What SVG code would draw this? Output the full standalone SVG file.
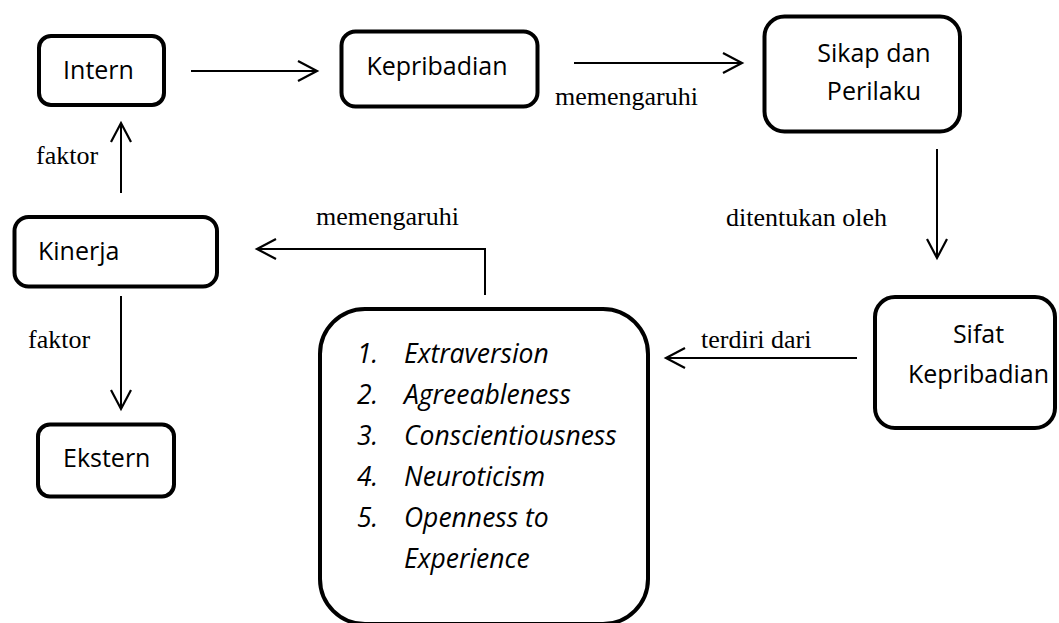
<svg xmlns="http://www.w3.org/2000/svg" width="1059" height="623" viewBox="0 0 1059 623">
  <style>
    .box { fill: #ffffff; stroke: #000000; stroke-width: 4; }
    .ntxt { font-family: "Open Sans", "Noto Sans", sans-serif; font-size: 25px; fill: #000000; }
    .ltxt { font-family: "Open Sans", "Noto Sans", sans-serif; font-size: 26.5px; font-style: italic; fill: #000000; }
    .lbl { font-family: "Liberation Serif", "Times New Roman", serif; font-size: 26px; fill: #000000; }
    .conn { fill: none; stroke: #000000; stroke-width: 2; marker-end: url(#arrow); }
  </style>
  <defs>
    <marker id="arrow" markerUnits="userSpaceOnUse" markerWidth="24" markerHeight="24" viewBox="-22 -12 24 24" refX="0" refY="0" orient="auto" overflow="visible">
      <path d="M-19,-10 L0,0 L-19,10" fill="none" stroke="#000000" stroke-width="2.2"/>
    </marker>
  </defs>
  <rect width="1059" height="623" fill="#ffffff"/>

  <g id="connectors">
    <path class="conn" d="M191,71 L317,71"/>
    <path class="conn" d="M574,63 L742,63"/>
    <path class="conn" d="M937,149 L937,258"/>
    <path class="conn" d="M857,358 L666,358"/>
    <path class="conn" d="M485,295 L485,249 L257,249"/>
    <path class="conn" d="M121,193 L121,123"/>
    <path class="conn" d="M121,296 L121,409"/>
    <text class="lbl" x="555" y="105">memengaruhi</text>
    <text class="lbl" x="726" y="226">ditentukan oleh</text>
    <text class="lbl" x="701" y="348">terdiri dari</text>
    <text class="lbl" x="316" y="225">memengaruhi</text>
    <text class="lbl" x="36" y="164">faktor</text>
    <text class="lbl" x="28" y="348">faktor</text>
  </g>

  <g id="intern">
    <rect class="box" x="39" y="36" width="125" height="69" rx="12"/>
    <text class="ntxt" x="98.5" y="79" text-anchor="middle">Intern</text>
  </g>
  <g id="kepribadian">
    <rect class="box" x="341.5" y="31.5" width="196" height="75" rx="14"/>
    <text class="ntxt" x="437" y="75" text-anchor="middle">Kepribadian</text>
  </g>
  <g id="sikap">
    <rect class="box" x="764.5" y="16.5" width="195.5" height="115" rx="20"/>
    <text class="ntxt" x="874" y="62" text-anchor="middle">Sikap dan</text>
    <text class="ntxt" x="874" y="100" text-anchor="middle">Perilaku</text>
  </g>
  <g id="sifat">
    <rect class="box" x="875" y="297" width="180" height="131" rx="20"/>
    <text class="ntxt" x="978.5" y="343" text-anchor="middle">Sifat</text>
    <text class="ntxt" x="978.5" y="383" text-anchor="middle">Kepribadian</text>
  </g>
  <g id="traits">
    <rect class="box" x="320" y="309" width="328" height="315" rx="45"/>
    <text class="ltxt" x="357" y="363">1.</text>
    <text class="ltxt" x="404" y="363">Extraversion</text>
    <text class="ltxt" x="357" y="404">2.</text>
    <text class="ltxt" x="404" y="404">Agreeableness</text>
    <text class="ltxt" x="357" y="445">3.</text>
    <text class="ltxt" x="404" y="445">Conscientiousness</text>
    <text class="ltxt" x="357" y="486">4.</text>
    <text class="ltxt" x="404" y="486">Neuroticism</text>
    <text class="ltxt" x="357" y="527">5.</text>
    <text class="ltxt" x="404" y="527">Openness to</text>
    <text class="ltxt" x="404" y="568">Experience</text>
  </g>
  <g id="kinerja">
    <rect class="box" x="14.5" y="217" width="202.5" height="69.5" rx="14"/>
    <text class="ntxt" x="38" y="260">Kinerja</text>
  </g>
  <g id="ekstern">
    <rect class="box" x="38" y="424.5" width="136" height="72" rx="12"/>
    <text class="ntxt" x="63" y="467">Ekstern</text>
  </g>
</svg>
